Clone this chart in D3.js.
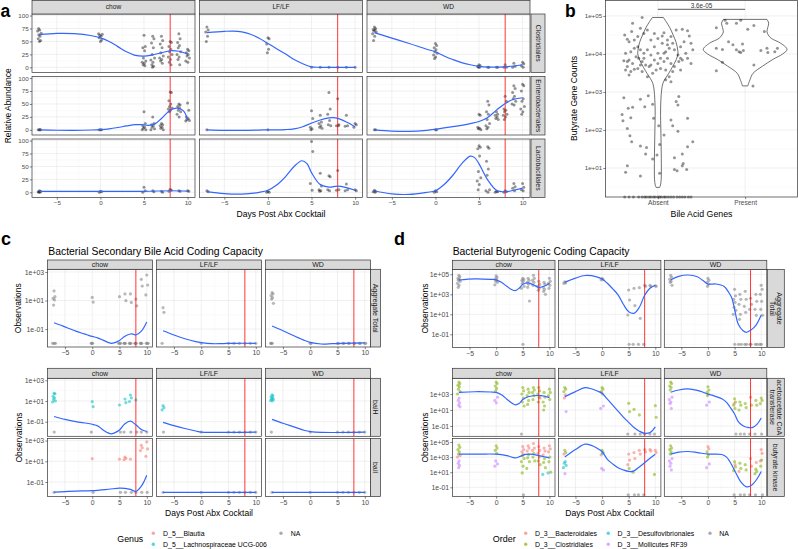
<!DOCTYPE html>
<html><head><meta charset="utf-8">
<script src="https://cdn.jsdelivr.net/npm/d3@7/dist/d3.min.js"></script>
<style>body{margin:0;background:#fff}svg{display:block}</style>
</head><body>
<script>
// ====================== DATA ======================
const Z = null; // zero count (plotted at the 0.01 pseudo-count)
const facetCols = ['chow', 'LF/LF', 'WD'];
const xTickVals = [-5, 0, 5, 10];
const abxEndDay = 8;

// ---- Panel a: relative abundance (%) per sampled day ----
const aRowNames = ['Clostridiales', 'Enterobacteriales', 'Lactobacillales'];
const aYTicks = [0, 25, 50, 75, 100];
const aCloChow = [[-7,[50,52,55,60,63,66,70,72,75]],[0,[50,53,57,60,62,64,65]],[5,[62,40,38,32,18,12,10,8,5,3]],[6,[60,55,47,38,25,18,14,10,5,2,0]],[7,[60,52,45,38,28,22,18,15,12,8]],[8,[50,48,40,35,30,25,20,15,10,5]],[9,[65,55,48,42,38,30,25,20,15,5]],[10,[35,32,28,25,22,18,12,10]]];
const aCloLF = [[-7,[78,72,68,60,50]],[0,[57,55,45,35,28]],[5,[0]],[6,[0]],[7,[0]],[8,[0]],[9,[0]],[10,[0]]];
const aCloWD = [[-7,[78,75,73,72,70,68,65,60,52]],[0,[46,42,38,34,30,27,24,20,17]],[5,[5,3,2,0,0]],[6,[0,0]],[7,[0,0]],[8,[5,0,0]],[9,[8,2,0]],[10,[10,7,3,0]]];
const aEntChow = [[-7,[0,0,0,0]],[0,[0,0,0]],[5,[35,12,8,5,3,0,0]],[6,[25,12,10,8,5,2,0]],[7,[12,10,8,5,3,0]],[8,[73,72,56,50,45,42,40,38,35]],[9,[50,48,45,42,38,35,30,25]],[10,[52,38,25,22,20,18,17]]];
const aEntLF = [[-7,[0]],[0,[0]],[5,[37,22,5,2,0]],[6,[28,15,12,8,5,3]],[7,[72,40,30,18,10,8]],[8,[60,10,8,8]],[9,[28,8,7]],[10,[12,10,5]]];
const aEntWD = [[-7,[0,0]],[0,[0,0]],[5,[30,28,5,3,2,0]],[6,[55,48,35,30,20,12,8,5,2]],[7,[35,30,28,25,22,20]],[8,[65,55,40,38,35,30,28,25,20]],[9,[85,80,72,65,60,55,50,48]],[10,[88,85,75,60,55,45,40,35,30]]];
const aLacChow = [[-7,[3,2,1,0,0]],[0,[2,1,0]],[5,[10,3,0]],[6,[3,1]],[7,[2,0]],[8,[6,4,2]],[9,[3,2]],[10,[3,2]]];
const aLacLF = [[-7,[3,1]],[0,[2,0,0]],[5,[98,79,17,4]],[6,[37,12,5,3,2]],[7,[32,30,5,3]],[8,[42,5,4]],[9,[16,5,3]],[10,[5,3]]];
const aLacWD = [[-7,[4,2,1,0]],[0,[3,1,0]],[5,[90,87,84,70,40,28,22,15,5]],[6,[88,85,60,45,33,5,3,0]],[7,[2,1,0]],[8,[3,1,0]],[9,[17,11,8,3]],[10,[17,10,5,3]]];
// loess fits (day, %)
const aCloChowFit = [[-7,63],[-5,65.5],[-3,65],[-1,61],[0,57],[1,50],[2,40],[3,30],[4,23],[5,21.5],[6,24],[7,28],[8,32],[9,31],[10,26]];
const aCloLFFit = [[-7,67],[-5,69.5],[-4,70],[-3,68.5],[-2,64],[-1,56],[0,46],[1,36],[2,26],[3,15],[4,7],[5,1],[6,0],[10,0]];
const aCloWDFit = [[-7,67],[-5,56.5],[-3,46],[-1,35],[0,30],[1,22],[2,15],[3,9],[4,5],[5,2],[6,0.5],[8,1],[9,2.5],[10,5]];
const aEntChowFit = [[-7,0],[-5,-0.8],[-3,-1],[-1,-0.3],[0,0.5],[1,2],[2,4.5],[3,7.5],[4,10],[4.7,10],[5.5,8.5],[6.3,12],[7,22],[8,38],[8.8,42],[9.5,37],[10,20]];
const aEntLFFit = [[-7,0],[-5,-1],[-3,-1.2],[-1,-0.5],[0,0],[1,0],[2,0.5],[3,2],[4,6],[5,13],[6,19],[7,23],[7.5,23.5],[8,22],[9,15],[10,6]];
const aEntWDFit = [[-7,0],[-5,-2.5],[-3,-3],[-1,-1],[0,1],[2,6],[4,12],[5,16],[6,24],[7,38],[8,51],[9,59],[10,62]];
const aLacChowFit = [[-7,2],[0,2],[5,2],[8,3],[10,2.5]];
const aLacLFFit = [[-7,1.5],[-5,-2.5],[-3,-3.5],[-1,0],[0,4],[1,14],[2,30],[3,50],[3.9,61],[4.5,55],[5,38],[6,15],[7,10],[8,12],[9,9],[10,4]];
const aLacWDFit = [[-7,2.5],[-5,-3],[-3,-4],[-1,0],[0,3],[1,15],[2,33],[3,55],[4,70],[4.5,67],[5,55],[6,24],[7,4],[8,1],[9,4],[10,8]];

// ---- Panel b: butyrate gene counts (log10) by bile acid genes ----
const bCategories = ['Absent', 'Present'];
const bYTicks = [1, 2, 3, 4, 5];
const bPValue = '3.6e-05';
// [jitter offset from category, log10 count]
const bAbsent = [[-0.18,4.96],[-0.29,4.81],[-0.38,4.5],[-0.35,4.39],[-0.3,4.59],[-0.27,4.37],[-0.33,4.32],[-0.23,4.46],[-0.2,4.68],[-0.16,4.54],[-0.12,4.63],[-0.08,4.37],[-0.04,4.54],[0,4.41],[0.05,4.47],[0.07,4.56],[0.11,4.37],[0.15,4.46],[0.17,4.28],[0.21,4.63],[0.28,4.65],[0.34,4.61],[0.36,4.47],[0.3,4.32],[0.26,4.19],[0.38,4.28],[0.4,4.11],[0.32,4.02],[0.23,3.97],[0.19,4.11],[0.13,4.15],[0.09,4.06],[0.07,4.02],[0.03,3.89],[0,3.75],[-0.04,3.84],[-0.08,3.97],[-0.12,4.11],[-0.16,4.02],[-0.2,4.11],[-0.23,4.19],[-0.27,4.15],[-0.31,4.06],[-0.37,4.02],[-0.35,3.8],[-0.39,3.82],[-0.33,3.84],[-0.29,3.75],[-0.25,3.93],[-0.22,3.89],[-0.18,3.8],[-0.14,3.71],[-0.1,3.67],[0.11,3.89],[0.15,3.75],[0.19,3.67],[0.24,3.8],[0.28,3.84],[0.34,3.89],[0.38,3.75],[0.26,3.58],[0.17,3.54],[0.09,3.58],[0.03,3.62],[-0.02,3.58],[-0.06,3.49],[-0.12,3.4],[-0.18,3.54],[-0.23,3.62],[-0.27,3.6],[-0.31,3.54],[-0.35,3.67],[-0.33,3.45],[-0.37,3.58],[-0.16,3.89],[0.26,3.89],[0.05,4.28],[0.11,4.24],[-0.04,4.19],[-0.2,3.71],[-0.08,3.71],[0,4.02],[0.07,3.8],[0.13,3.4],[0.09,3.32],
 [0.15,3.27],[-0.39,2.85],[-0.2,2.81],[-0.15,2.61],[-0.11,2.9],[-0.06,2.68],[-0.29,2.6],[-0.34,2.57],[0.24,2.88],[0.21,2.75],[0.23,2.66],[-0.41,2.41],[-0.4,2.24],[-0.31,2.32],[-0.05,2.31],[0.01,2.11],[0.07,1.87],[0.15,2.26],[0.17,2.11],[0.23,1.97],[0.34,2.31],[-0.35,2.04],[-0.32,1.85],[-0.3,1.69],[-0.2,1.58],[-0.13,1.54],[-0.14,1.37],[-0.01,1.34],[-0.06,1.24],[0.02,1.62],[0.28,1.37],[0.34,1.56],[0.4,1.69],[0.19,1.27],[0.29,1.12],[-0.35,1.06],[-0.37,0.89],[-0.2,0.79],[0.02,0.86],[0.19,0.96],[0.22,0.93],[0.33,0.96],[0.28,1.06]];
const bAbsentZeroJitter = [-0.38,-0.33,-0.28,-0.22,-0.18,-0.15,-0.13,-0.1,-0.08,-0.05,-0.03,0,0.02,0.04,0.07,0.09,0.12,0.15,0.18,0.22,0.25,0.28,0.31,0.35,0.38];
const bPresent = [[-0.33,4.69],[-0.23,4.89],[-0.21,4.81],[-0.1,4.81],[-0.05,4.89],[0.03,4.65],[0.1,4.75],[0.22,4.59],[-0.19,4.32],[-0.33,4.15],[-0.26,4.12],[-0.14,4.24],[-0.1,4.11],[-0.03,4.26],[-0.05,4.04],[-0.07,4.06],[-0.02,4.09],[0.18,4.09],[0.25,4.15],[0.34,4.06],[0.37,4.15],[0.26,4.04],[-0.26,3.78],[-0.33,3.56],[0.1,3.71],[0.09,3.16]];
// violin outlines: [log10 count, half width in category units]
const bAbsentViolin = [[4.96,0.063],[4.85,0.095],[4.7,0.135],[4.5,0.175],[4.3,0.21],[4.1,0.228],[4.0,0.23],[3.85,0.21],[3.65,0.165],[3.49,0.124],[3.35,0.085],[3.23,0.058],[3.05,0.043],[2.8,0.035],[2.5,0.031],[2.0,0.034],[1.5,0.038],[1.0,0.04],[0.7,0.038],[0.55,0.03],[0.49,0.02]];
const bPresentViolin = [[4.91,0.25],[4.81,0.27],[4.7,0.26],[4.59,0.25],[4.5,0.265],[4.41,0.3],[4.28,0.41],[4.12,0.48],[4.0,0.43],[3.86,0.32],[3.68,0.2],[3.49,0.09],[3.32,0.055],[3.16,0.03]];

// ---- Panel c: secondary bile acid genes (log10 observations) ----
const cRowNames = ['Aggregate Total', 'baiH', 'baiI'];
const cGenus = ['D_5__Blautia', 'D_5__Lachnospiraceae UCG-006', 'NA'];
const cAggChow = [[-7,'N',[1.67,1.27,1.15,1.04,0.68,Z,Z,Z]],[0,'N',[1.22,0.89,Z,Z,Z]],[5,'N',[1.27,Z,Z,Z]],[6,'N',[1.46,0.99,Z,Z,Z]],[7,'N',[1.46,0.87,Z,Z,Z]],[8,'N',[1.1,0.63,Z,Z,Z]],[9,'N',[2.49,2.02,Z,Z,Z]],[10,'N',[2.79,2.09,1.39,Z,Z,Z]]];
const cAggLF = [[-7,'N',[0.5,0.17,Z]],[0,'N',[Z]],[5,'N',[Z]],[6,'N',[Z]],[7,'N',[Z]],[8,'N',[Z]],[9,'N',[Z]],[10,'N',[Z]]];
const cAggWD = [[-7,'N',[1.55,1.46,1.34,1.2,1.1,0.8,Z,Z,Z]],[0,'N',[Z,Z]],[5,'N',[Z,Z]],[6,'N',[Z,Z]],[7,'N',[Z,Z]],[8,'N',[Z,Z]],[9,'N',[Z,Z]],[10,'N',[Z,Z]]];
const cBaiHChow = [[-7,'L',[1.74,1.7,1.45,1.3,1.15,1.0,0.9]],[-7,'N',[Z]],[0,'L',[0.93,0.45]],[0,'N',[Z]],[5,'L',[0.61]],[5,'N',[Z]],[6,'L',[1.19,0.84]],[6,'N',[Z]],[7,'L',[1.58,1.3,0.95]],[7,'N',[Z]],[8,'L',[1.1]],[8,'N',[Z]],[9,'N',[Z]],[10,'N',[Z]]];
const cBaiHLF = [[-7,'L',[0.55,0.35,0.15]],[-7,'N',[Z]],[0,'N',[Z]],[5,'N',[Z]],[6,'N',[Z]],[7,'N',[Z]],[8,'N',[Z]],[9,'N',[Z]],[10,'N',[Z]]];
const cBaiHWD = [[-7,'L',[1.6,1.5,1.4,1.3,1.2,1.15,1.05,1.0]],[-7,'N',[Z]],[0,'N',[Z]],[5,'N',[Z]],[6,'N',[Z]],[7,'N',[Z]],[8,'N',[Z]],[9,'N',[Z]],[10,'N',[Z]]];
const cBaiIChow = [[-7,'N',[Z]],[0,'B',[1.25]],[0,'N',[Z]],[5,'B',[1.2]],[5,'N',[Z]],[6,'B',[1.4,1.28,1.15]],[6,'N',[Z]],[7,'B',[1.2]],[7,'N',[Z]],[8,'N',[Z]],[9,'B',[2.55,2.3,2.03]],[9,'N',[Z]],[10,'B',[2.87,2.19,1.48]],[10,'N',[Z]]];
const cBaiILF = [[-7,'N',[Z]],[0,'N',[Z]],[5,'N',[Z]],[6,'N',[Z]],[7,'N',[Z]],[8,'N',[Z]],[9,'N',[Z]],[10,'N',[Z]]];
const cBaiIWD = [[-7,'N',[Z]],[0,'N',[Z]],[5,'N',[Z]],[6,'N',[Z]],[7,'N',[Z]],[8,'N',[Z]],[9,'N',[Z]],[10,'N',[Z]]];
const cAggChowFit = [[-7,-0.56],[-6,-0.7],[-5,-0.85],[-4,-1.0],[-3,-1.15],[-2,-1.28],[-1,-1.4],[0,-1.52],[1,-1.62],[2,-1.78],[3,-1.95],[3.5,-2.0],[4,-1.97],[5,-1.8],[6,-1.5],[7,-1.35],[7.5,-1.36],[8,-1.42],[9,-1.15],[10,-0.5]];
const cAggLFFit = [[-7,-1.12],[-5,-1.42],[-3,-1.68],[-1,-1.88],[0,-1.95],[2,-2.03],[4,-2.02],[6,-2.0],[10,-2.0]];
const cAggWDFit = [[-7,-0.79],[-5,-1.12],[-3,-1.47],[-1,-1.8],[0,-1.93],[2,-2.05],[4,-2.03],[6,-2.0],[10,-1.97]];
const cBaiHChowFit = [[-7,-0.5],[-5,-0.78],[-3,-1.0],[-1,-1.15],[0,-1.25],[1,-1.4],[2,-1.8],[3,-2.1],[3.5,-2.17],[4,-2.1],[5,-1.8],[6,-1.2],[7,-0.95],[8,-1.3],[9,-1.75],[10,-1.95]];
const cBaiHLFFit = [[-7,-1.06],[-5,-1.38],[-3,-1.66],[-1,-1.9],[0,-2.0],[2,-2.03],[10,-2.0]];
const cBaiHWDFit = [[-7,-0.77],[-5,-1.15],[-3,-1.5],[-1,-1.85],[0,-1.95],[2,-2.03],[10,-2.0]];
const cBaiIChowFit = [[-7,-1.97],[-5,-1.93],[-3,-1.88],[0,-1.83],[3,-1.7],[5,-1.6],[6,-1.62],[7,-1.72],[8,-1.9],[9,-1.4],[9.5,-0.95],[10,-0.35]];
const cBaiILFFit = [[-7,-2],[10,-2]];
const cBaiIWDFit = [[-7,-2],[10,-2]];

// ---- Panel d: butyrogenic genes (log10 observations) ----
const dRowNames = [['Aggregate','Total'], ['acetoacetate CoA','transferase'], ['butyrate kinase']];
const dOrders = ['D_3__Bacteroidales', 'D_3__Clostridiales', 'D_3__Desulfovibrionales', 'D_3__Mollicutes RF39', 'NA'];
const dAggChow = [[-7,'N',[4.9,4.75,4.6,4.5,4.4,4.3,4.1,3.9,3.7]],[0,'N',[4.85,4.7,4.55,4.45,4.3,4.2,3.95]],[5,'N',[4.6,4.5,4.4,4.3,4.1,3.8,3.6,Z]],[6,'N',[4.6,4.4,4.2,4.0,3.7,2.33]],[7,'N',[4.9,4.6,4.4,4.2,3.9]],[8,'N',[4.3,4.0,3.8,3.6,3.4]],[9,'N',[4.2,4.0,3.7,3.5,3.3,3.0]],[10,'N',[4.6,4.3,4.1,3.9,3.6]]];
const dAggLF = [[-7,'N',[4.25,4.15,4.1]],[0,'N',[4.6,4.5,4.45]],[5,'N',[3.43,2.43,0.93,Z]],[6,'N',[3.6,1.86,Z]],[7,'N',[3.66,0.6,Z]],[8,'N',[3.9,3.8,Z]],[9,'N',[3.9,3.8]],[10,'N',[3.85,3.8]]];
const dAggWD = [[-7,'N',[4.9,4.7,4.5,4.3,4.2,3.9]],[0,'N',[4.6,4.4,4.2,4.0,3.8]],[5,'N',[3.5,2.85,2.5,2.2,1.7,1.4,1.0,Z]],[6,'N',[3.0,2.5,2.0,1.0,0.5,Z,Z]],[7,'N',[3.3,2.5,1.8,1.2,Z,Z]],[8,'N',[2.6,2.0,1.5,Z,Z]],[9,'N',[3.0,2.3,1.5,0.9,Z,Z]],[10,'N',[3.9,3.5,3.0,2.3,1.5,0.9,Z,Z]]];
const dAcChow = [[-7,'C',[4.5,4.3,4.1,3.9,3.6,3.3,3.0]],[-7,'M',[2.5,2.2,1.9,1.6,1.4]],[0,'C',[4.5,4.3,4.0,3.7,3.4]],[0,'M',[2.6,2.2,1.9]],[5,'C',[3.8,3.4,3.0,2.5,2.0,1.5]],[5,'N',[Z]],[6,'C',[3.6,3.2,2.8,2.2,1.7]],[7,'C',[3.8,3.5,3.2,2.8,2.3]],[8,'C',[3.8,3.4,3.0,2.6,2.0]],[8,'B',[2.5]],[9,'C',[3.2,2.6,2.0,1.5,1.0]],[10,'C',[3.6,3.2,2.8,2.3]]];
const dAcLF = [[-7,'C',[3.8,3.6,3.3]],[-7,'B',[2.9,2.5]],[-7,'M',[0.8]],[0,'C',[3.8,3.6,3.3,3.0]],[0,'B',[3.2]],[0,'M',[1.5,1.2]],[5,'C',[1.83,0.8]],[5,'N',[Z]],[6,'C',[1.08]],[6,'N',[Z]],[7,'C',[0.38]],[7,'N',[Z]],[8,'N',[Z]],[9,'N',[Z]],[10,'C',[1.54,0.09]],[10,'N',[Z]]];
const dAcWD = [[-7,'C',[4.5,4.3,4.0,3.8,3.5]],[-7,'M',[2.6,2.3,2.0,1.8,1.2]],[0,'C',[3.9,3.5,3.2,3.0,2.8]],[0,'M',[2.0,1.6]],[5,'C',[2.4,2.0,1.6,1.2]],[5,'B',[1.8]],[5,'N',[Z]],[6,'C',[2.0,1.6,1.0]],[6,'N',[Z]],[7,'C',[1.8,1.3]],[7,'N',[Z]],[8,'B',[2.6]],[8,'C',[1.6]],[8,'N',[Z]],[9,'C',[2.2,1.6]],[9,'N',[Z]],[10,'C',[2.5,2.2,1.8]],[10,'N',[Z]]];
const dBkChow = [[-7,'C',[4.6,4.3,4.0,3.7,3.4]],[-7,'B',[3.2,3.0]],[-7,'M',[2.5,2.2,1.9,1.6]],[0,'C',[4.5,4.2,3.9,3.5]],[0,'M',[2.5,2.1,1.8]],[5,'B',[4.4,4.0,3.7,3.4]],[5,'C',[3.2,2.8,2.4,1.8,0.9]],[5,'N',[Z]],[6,'B',[4.5,4.2,3.8]],[6,'C',[3.3,2.9,2.4,1.5]],[7,'B',[4.8,4.2,3.9]],[7,'C',[3.5,3.0,2.5]],[8,'B',[4.4,3.9,3.5]],[8,'C',[3.0,2.5,2.0]],[9,'B',[4.2,3.8,3.3]],[9,'C',[2.8,2.3,1.6]],[9,'D',[0.7]],[10,'B',[4.5,4.1,3.7]],[10,'C',[3.0,2.4,1.0]],[10,'D',[0.9]]];
const dBkLF = [[-7,'C',[3.9,3.6]],[-7,'B',[3.4]],[-7,'D',[2.4,2.2,1.9,1.6]],[-7,'M',[0.8]],[0,'C',[3.9,3.6]],[0,'B',[3.3]],[0,'D',[3.5]],[0,'M',[1.5,1.3]],[5,'B',[3.4,2.6,2.0]],[5,'C',[1.5]],[5,'N',[Z]],[6,'B',[3.6,2.8]],[6,'C',[1.0]],[6,'N',[Z]],[7,'B',[3.9,3.4]],[7,'N',[Z]],[8,'B',[4.0,3.7]],[8,'N',[Z]],[9,'B',[4.0,3.8]],[10,'B',[3.9,3.6]],[10,'C',[0.7]]];
const dBkWD = [[-7,'C',[4.5,4.2,4.0,3.7,3.4]],[-7,'M',[2.8,2.5,2.2,1.8,1.3]],[0,'B',[4.4,4.1]],[0,'C',[3.7,3.3,3.0]],[0,'M',[2.1,1.6]],[5,'C',[2.4,1.7,1.2]],[5,'B',[2.0]],[5,'N',[Z]],[6,'C',[2.2,1.5]],[6,'B',[1.1]],[6,'N',[Z]],[7,'C',[2.0,1.3]],[7,'N',[Z]],[8,'B',[2.8,1.8]],[8,'N',[Z]],[9,'C',[1.4,1.1,0.8]],[9,'B',[2.3]],[9,'N',[Z]],[10,'B',[4.0,3.5,2.5]],[10,'C',[2.6,1.8]],[10,'N',[Z]]];
const dAggChowFit = [[-7,4.43],[-4,4.55],[-1,4.5],[0,4.45],[1,4.2],[2,3.8],[3,3.45],[3.6,3.36],[4.3,3.6],[5,4.0],[6,4.15],[7,3.95],[8,3.7],[9,3.8],[10,4.1]];
const dAggLFFit = [[-7,4.2],[-5,4.62],[-3.2,4.88],[-1,4.75],[0,4.53],[1,4.1],[2,3.55],[3,2.95],[4,2.0],[5,1.25],[6,1.1],[7,1.7],[8,2.9],[9,3.6],[10,3.9]];
const dAggWDFit = [[-7,4.43],[-5.5,4.8],[-3.7,4.93],[-2,4.75],[-1,4.4],[0,4.03],[1.5,4.03],[3,3.8],[4,3.1],[4.5,2.6],[5,1.5],[5.7,0.0],[6.6,-0.65],[7.2,-0.8],[8,-0.6],[9,-0.1],[10,0.93]];
const dAcChowFit = [[-7,3.21],[-4,3.28],[-1,3.25],[0,3.2],[1,2.9],[2,2.35],[3,1.85],[3.6,1.65],[4.3,1.8],[5,2.3],[6,2.65],[7,2.78],[8.5,2.79],[10,2.55]];
const dAcLFFit = [[-7,2.67],[-5,3.3],[-3.2,3.79],[-2,3.65],[-1,3.4],[0,3.09],[1,2.35],[2,1.6],[3,0.85],[4,0.1],[5,-0.55],[6,-1.2],[7,-1.65],[8,-1.92],[9,-1.82],[10,-1.1]];
const dAcWDFit = [[-7,3.21],[-5.5,3.5],[-3.7,3.63],[-2,3.45],[-1,3.25],[0,2.96],[1,2.8],[2.6,2.4],[3.5,1.95],[4.1,1.4],[5,0.5],[5.7,-0.45],[6.5,-0.95],[7.3,-1.16],[8.3,-1.2],[9.2,-0.8],[10,0.0]];
const dBkChowFit = [[-7,3.39],[-3,3.4],[0,3.39],[2,3.2],[3.6,2.9],[4.5,3.1],[5.5,3.35],[6.5,3.4],[8,3.2],[9,3.05],[10,2.9]];
const dBkLFFit = [[-7,3.0],[-5,4.0],[-3.2,4.71],[-2,4.55],[-1,4.2],[0,3.74],[1,2.7],[2,2.1],[3,1.6],[4,1.3],[5,1.1],[5.9,1.15],[7,1.7],[8,2.25],[9,2.85],[10,3.39]];
const dBkWDFit = [[-7,3.39],[-5.5,3.65],[-3.7,3.74],[-2,3.6],[0,3.39],[1,3.4],[2.6,3.35],[3.5,3.0],[4.1,2.42],[5.1,1.1],[6.1,-0.2],[7.3,-0.95],[8.3,-0.65],[9.2,0.1],[10,1.1]];

// ====================== DRAWING ======================
const FONT = "'Liberation Sans', Arial, Helvetica, sans-serif";
const ZERO_LOG = -2;
const groupColor = {B:'#F8766D', C:'#7CAE00', D:'#00BFC4', L:'#00BFC4', M:'#C77CFF', N:'#7F7F7F'};
const jitterPattern = [0, 0.14, -0.14, 0.07, -0.07, 0.21, -0.21, 0.03, -0.1, 0.1, -0.03, 0.17, -0.17];
const svg = d3.select('body').append('svg').attr('width', 798).attr('height', 549)
  .style('font-family', FONT);
let clipId = 0;

function expandRows(rows) {
  const out = [], count = {};
  rows.forEach(r => {
    const day = r[0], grp = r.length === 3 ? r[1] : 'N', vals = r[r.length - 1];
    vals.forEach(v => {
      const k = count[day] || 0; count[day] = k + 1;
      out.push({day, jit: jitterPattern[k % jitterPattern.length], v, g: grp});
    });
  });
  return out;
}

function logLabel(e) { return '1e' + (e < 0 ? '-' : '+') + String(Math.abs(e)).padStart(2, '0'); }

function fitText(t, width) {
  const fs = parseFloat(t.attr('font-size'));
  const w = t.node().getComputedTextLength();
  if (w > 0) t.attr('font-size', fs * width / w);
  return t;
}

function strip(x, y, w, h, label, rotate, fs) {
  svg.append('rect').attr('x', x).attr('y', y).attr('width', w).attr('height', h)
    .attr('fill', '#D9D9D9').attr('stroke', '#333333').attr('stroke-width', 0.7);
  const lines = Array.isArray(label) ? label : [label];
  const cx = x + w / 2, cy = y + h / 2;
  const t = svg.append('text').attr('font-size', fs).attr('fill', '#1A1A1A').attr('text-anchor', 'middle')
    .attr('transform', `translate(${cx},${cy}) rotate(${rotate ? 90 : 0})`);
  const n = lines.length, lh = fs * 1.05;
  lines.forEach((s, i) => {
    t.append('tspan').attr('x', 0).attr('y', (i - (n - 1) / 2) * lh).attr('dy', '0.35em').text(s);
  });
}

function facet(o) {
  const x = d3.scaleLinear().domain(o.xd).range([o.x0, o.x0 + o.w]);
  const y = d3.scaleLinear().domain(o.yd).range([o.y0 + o.h, o.y0]);
  const g = svg.append('g');
  g.append('rect').attr('x', o.x0).attr('y', o.y0).attr('width', o.w).attr('height', o.h).attr('fill', '#fff');
  const gl = (v, vert, major) => {
    const l = g.append('line').attr('stroke', major ? '#E6E6E6' : '#F2F2F2').attr('stroke-width', major ? 0.6 : 0.4);
    if (vert) l.attr('x1', x(v)).attr('x2', x(v)).attr('y1', o.y0).attr('y2', o.y0 + o.h);
    else l.attr('x1', o.x0).attr('x2', o.x0 + o.w).attr('y1', y(v)).attr('y2', y(v));
  };
  o.xMinor.forEach(v => gl(v, true, false));
  o.yMinor.filter(v => v > o.yd[0] && v < o.yd[1]).forEach(v => gl(v, false, false));
  o.xMajor.forEach(v => gl(v, true, true));
  o.yMajor.forEach(v => gl(v, false, true));
  const id = 'clip' + (clipId++);
  g.append('clipPath').attr('id', id).append('rect').attr('x', o.x0).attr('y', o.y0).attr('width', o.w).attr('height', o.h);
  const pts = expandRows(o.rows);
  g.append('g').selectAll('circle').data(pts).join('circle')
    .attr('cx', d => x(d.day + d.jit * o.jitScale))
    .attr('cy', d => y(d.v === null ? ZERO_LOG : d.v))
    .attr('r', o.r)
    .attr('fill', d => o.mono || groupColor[d.g])
    .attr('fill-opacity', o.alpha);
  const cg = g.append('g').attr('clip-path', `url(#${id})`);
  cg.append('line').attr('x1', x(abxEndDay)).attr('x2', x(abxEndDay)).attr('y1', o.y0).attr('y2', o.y0 + o.h)
    .attr('stroke', '#FF0000').attr('stroke-width', 0.8);
  cg.append('path').datum(o.fit)
    .attr('d', d3.line().x(d => x(d[0])).y(d => y(d[1])).curve(d3.curveCatmullRom.alpha(0.5)))
    .attr('fill', 'none').attr('stroke', '#3366FF').attr('stroke-width', 1.2);
  g.append('rect').attr('x', o.x0).attr('y', o.y0).attr('width', o.w).attr('height', o.h)
    .attr('fill', 'none').attr('stroke', '#333333').attr('stroke-width', 0.7);
  if (o.yLabels) {
    const ax = g.append('g').attr('transform', `translate(${o.x0},0)`)
      .call(d3.axisLeft(y).tickValues(o.yMajor).tickFormat(o.yFmt).tickSize(2.2).tickPadding(1.2));
    styleAxis(ax, o.tickFs);
  }
  if (o.xLabels) {
    const ax = g.append('g').attr('transform', `translate(0,${o.y0 + o.h})`)
      .call(d3.axisBottom(x).tickValues(o.xMajor).tickFormat(d3.format('d')).tickSize(2.2).tickPadding(1.0));
    styleAxis(ax, o.tickFs);
  }
}

function styleAxis(ax, fs) {
  ax.select('.domain').remove();
  ax.attr('font-family', FONT).attr('font-size', fs);
  ax.selectAll('line').attr('stroke', '#333333').attr('stroke-width', 0.6);
  ax.selectAll('text').attr('fill', '#4D4D4D');
}

function label(txt, x, y, fs, opts = {}) {
  const t = svg.append('text').attr('x', x).attr('y', y).attr('font-size', fs)
    .attr('fill', opts.fill || '#000').attr('text-anchor', opts.anchor || 'start')
    .attr('font-weight', opts.bold ? 'bold' : null).text(txt);
  if (opts.rot) t.attr('transform', `rotate(-90,${x},${y})`);
  if (opts.width) fitText(t, opts.width);
  return t;
}

const xMinorDays = [-7.5, -2.5, 2.5, 7.5];

// ---------- Panel a ----------
const LA = {cols: [32, 199.5, 367], w: 163, rows: [14, 76.5, 139], h: 58.5};
const aPts = [[aCloChow, aCloLF, aCloWD], [aEntChow, aEntLF, aEntWD], [aLacChow, aLacLF, aLacWD]];
const aFit = [[aCloChowFit, aCloLFFit, aCloWDFit], [aEntChowFit, aEntLFFit, aEntWDFit], [aLacChowFit, aLacLFFit, aLacWDFit]];
for (let r = 0; r < 3; r++) for (let c = 0; c < 3; c++) {
  facet({x0: LA.cols[c], y0: LA.rows[r], w: LA.w, h: LA.h, xd: [-7.85, 10.85], yd: [-10, 103],
    xMajor: xTickVals, xMinor: xMinorDays, yMajor: aYTicks, yMinor: [12.5, 37.5, 62.5, 87.5],
    rows: aPts[r][c], fit: aFit[r][c], r: 1.5, alpha: 0.42, mono: '#000', jitScale: 1,
    yLabels: c === 0, xLabels: r === 2, yFmt: d3.format('d'), tickFs: 6.2});
}
facetCols.forEach((n, c) => strip(LA.cols[c], 0.35, LA.w, 13.65, n, false, 6.6));
aRowNames.forEach((n, r) => strip(531, LA.rows[r], 14, LA.h, n, true, 6.8));
label('Days Post Abx Cocktail', 281, 216.5, 8.6, {anchor: 'middle', width: 89});
label('Relative Abundance', 11.2, 105.8, 8.6, {anchor: 'middle', rot: true, width: 75});
label('a', 0.5, 16.5, 17.5, {bold: true});

// ---------- Panel b ----------
(function () {
  const x0 = 605.5, x1 = 797.5, y0 = 0.4, y1 = 197;
  const x = d3.scaleLinear().domain([0.4, 2.6]).range([x0, x1]);
  const y = d3.scaleLinear().domain([0.237, 5.42]).range([y1, 0]);
  const g = svg.append('g');
  g.append('rect').attr('x', x0).attr('y', y0).attr('width', x1 - x0).attr('height', y1 - y0).attr('fill', '#fff');
  [0.5, 1.5, 2.5, 3.5, 4.5].forEach(v => g.append('line').attr('x1', x0).attr('x2', x1).attr('y1', y(v)).attr('y2', y(v)).attr('stroke', '#F2F2F2').attr('stroke-width', 0.4));
  bYTicks.forEach(v => g.append('line').attr('x1', x0).attr('x2', x1).attr('y1', y(v)).attr('y2', y(v)).attr('stroke', '#E6E6E6').attr('stroke-width', 0.6));
  [1, 2].forEach(v => g.append('line').attr('x1', x(v)).attr('x2', x(v)).attr('y1', y0).attr('y2', y1).attr('stroke', '#E6E6E6').attr('stroke-width', 0.6));
  const violin = (data, c) => g.append('path').datum(data)
    .attr('d', d3.area().y(d => y(d[0])).x0(d => x(c - d[1])).x1(d => x(c + d[1])).curve(d3.curveCatmullRom.alpha(0.5)))
    .attr('fill', '#fff').attr('stroke', '#333333').attr('stroke-width', 0.7);
  violin(bAbsentViolin, 1);
  violin(bPresentViolin, 2);
  const pts = bAbsent.map(d => ({x: 1 + d[0], v: d[1]}))
    .concat(bAbsentZeroJitter.map(j => ({x: 1 + j, v: null})))
    .concat(bPresent.map(d => ({x: 2 + d[0], v: d[1]})));
  g.selectAll('circle.pt').data(pts).join('circle')
    .attr('cx', d => x(d.x)).attr('cy', d => d.v === null ? y1 : y(d.v)).attr('r', 1.5)
    .attr('fill', '#000').attr('fill-opacity', 0.42);
  g.append('rect').attr('x', x0).attr('y', y0).attr('width', x1 - x0).attr('height', y1 - y0)
    .attr('fill', 'none').attr('stroke', '#333333').attr('stroke-width', 0.7);
  const ay = g.append('g').attr('transform', `translate(${x0},0)`)
    .call(d3.axisLeft(y).tickValues(bYTicks).tickFormat(logLabel).tickSize(2.2).tickPadding(1.2));
  styleAxis(ay, 6.2);
  const ax = g.append('g').attr('transform', `translate(0,${y1})`)
    .call(d3.axisBottom(x).tickValues([1, 2]).tickFormat(d => bCategories[d - 1]).tickSize(2.2).tickPadding(1.0));
  styleAxis(ax, 6.6);
  g.append('line').attr('x1', x(1)).attr('x2', x(2)).attr('y1', 9.3).attr('y2', 9.3).attr('stroke', '#333333').attr('stroke-width', 0.8);
  label(bPValue, x(1.5), 7.8, 6.3, {anchor: 'middle', fill: '#333'});
  label('Bile Acid Genes', (x0 + x1) / 2, 216.5, 8.6, {anchor: 'middle', width: 62});
  label('Butyrate Gene Counts', 576.5, 98.5, 8.6, {anchor: 'middle', rot: true, width: 85});
  label('b', 565, 16.5, 17.5, {bold: true});
})();

// ---------- Panels c and d (shared helper) ----------
function section(L, yd, rowsPts, rowsFit, rowY, rowH, stripY, rowLabels, yMajorList, yMinorList) {
  for (let r = 0; r < rowY.length; r++) for (let c = 0; c < 3; c++) {
    facet({x0: L.cols[c], y0: rowY[r], w: L.w, h: rowH, xd: [-8.2, 11.05], yd: yd[r],
      xMajor: xTickVals, xMinor: xMinorDays, yMajor: yMajorList[r], yMinor: yMinorList[r],
      rows: rowsPts[r][c], fit: rowsFit[r][c], r: 1.6, alpha: 0.55, jitScale: 1.2,
      yLabels: c === 0, xLabels: r === rowY.length - 1, yFmt: logLabel, tickFs: 6.9});
  }
  facetCols.forEach((n, c) => strip(L.cols[c], stripY, L.w, rowY[0] - stripY, n, false, 7));
  rowLabels.forEach((n, r) => strip(L.rsx, rowY[r], L.rsw, rowH, n, true, 7));
}

// Panel c
const LC = {cols: [47.5, 156.5, 265.5], w: 105, rsx: 370.5, rsw: 10};
section(LC, [[-2.26, 3.19]], [[cAggChow, cAggLF, cAggWD]], [[cAggChowFit, cAggLFFit, cAggWDFit]],
  [269.3], 77.7, 260, [cRowNames[0]], [[-1, 1, 3]], [[-2, 0, 2]]);
section(LC, [[-2.41, 3.19], [-2.41, 3.19]], [[cBaiHChow, cBaiHLF, cBaiHWD], [cBaiIChow, cBaiILF, cBaiIWD]],
  [[cBaiHChowFit, cBaiHLFFit, cBaiHWDFit], [cBaiIChowFit, cBaiILFFit, cBaiIWDFit]],
  [378.3, 438.6], 58, 368.3, [cRowNames[1], cRowNames[2]], [[-1, 1, 3], [-1, 1, 3]], [[-2, 0, 2], [-2, 0, 2]]);
label('Bacterial Secondary Bile Acid Coding Capacity', 48.3, 254.5, 10.5, {width: 215});
label('Days Post Abx Cocktail', 209, 516, 8.6, {anchor: 'middle', width: 88});
label('Observations', 21.5, 308.2, 8.6, {anchor: 'middle', rot: true, width: 50});
label('Observations', 21.5, 437.5, 8.6, {anchor: 'middle', rot: true, width: 50});
label('c', 1, 245, 18, {bold: true});
// legend c
label('Genus', 117.3, 542.2, 8.8, {width: 26});
[[cGenus[0], 'B', 153.3, 533.3], [cGenus[1], 'L', 153.3, 544.3], [cGenus[2], 'N', 281, 533.3]].forEach(k => {
  svg.append('circle').attr('cx', k[2]).attr('cy', k[3]).attr('r', 1.7).attr('fill', groupColor[k[1]]).attr('fill-opacity', 0.65);
  label(k[0], k[2] + 9.8, k[3] + 2.4, 6.9, {});
});

// Panel d
const LD = {cols: [452.5, 558.4, 664.3], w: 102.5, rsx: 767.3, rsw: 17};
section(LD, [[-2.32, 5.48]], [[dAggChow, dAggLF, dAggWD]], [[dAggChowFit, dAggLFFit, dAggWDFit]],
  [269.5], 78, 260.3, [dRowNames[0]], [[-1, 1, 3, 5]], [[-2, 0, 2, 4]]);
section(LD, [[-2.29, 4.96], [-2.23, 5.45]], [[dAcChow, dAcLF, dAcWD], [dBkChow, dBkLF, dBkWD]],
  [[dAcChowFit, dAcLFFit, dAcWDFit], [dBkChowFit, dBkLFFit, dBkWDFit]],
  [378.3, 438.6], 58, 368.3, [dRowNames[1], dRowNames[2]], [[-1, 1, 3], [-1, 1, 3, 5]], [[-2, 0, 2, 4], [-2, 0, 2, 4]]);
label('Bacterial Butyrogenic Coding Capacity', 452.7, 254.5, 10.5, {width: 177});
label('Days Post Abx Cocktail', 609.7, 516, 8.6, {anchor: 'middle', width: 89});
label('Observations', 427.5, 308.5, 8.6, {anchor: 'middle', rot: true, width: 50});
label('Observations', 427.5, 437.5, 8.6, {anchor: 'middle', rot: true, width: 50});
label('d', 394, 245, 18, {bold: true});
// legend d
label('Order', 492.7, 542.2, 8.8, {width: 23});
[[dOrders[0], 'B', 525.7, 533.3], [dOrders[1], 'C', 525.7, 544.3], [dOrders[2], 'D', 608.3, 533.3],
 [dOrders[3], 'M', 608.3, 544.3], [dOrders[4], 'N', 710, 533.3]].forEach(k => {
  svg.append('circle').attr('cx', k[2]).attr('cy', k[3]).attr('r', 1.7).attr('fill', groupColor[k[1]]).attr('fill-opacity', 0.65);
  label(k[0], k[2] + 9.3, k[3] + 2.4, 6.9, {});
});
</script>
</body></html>
